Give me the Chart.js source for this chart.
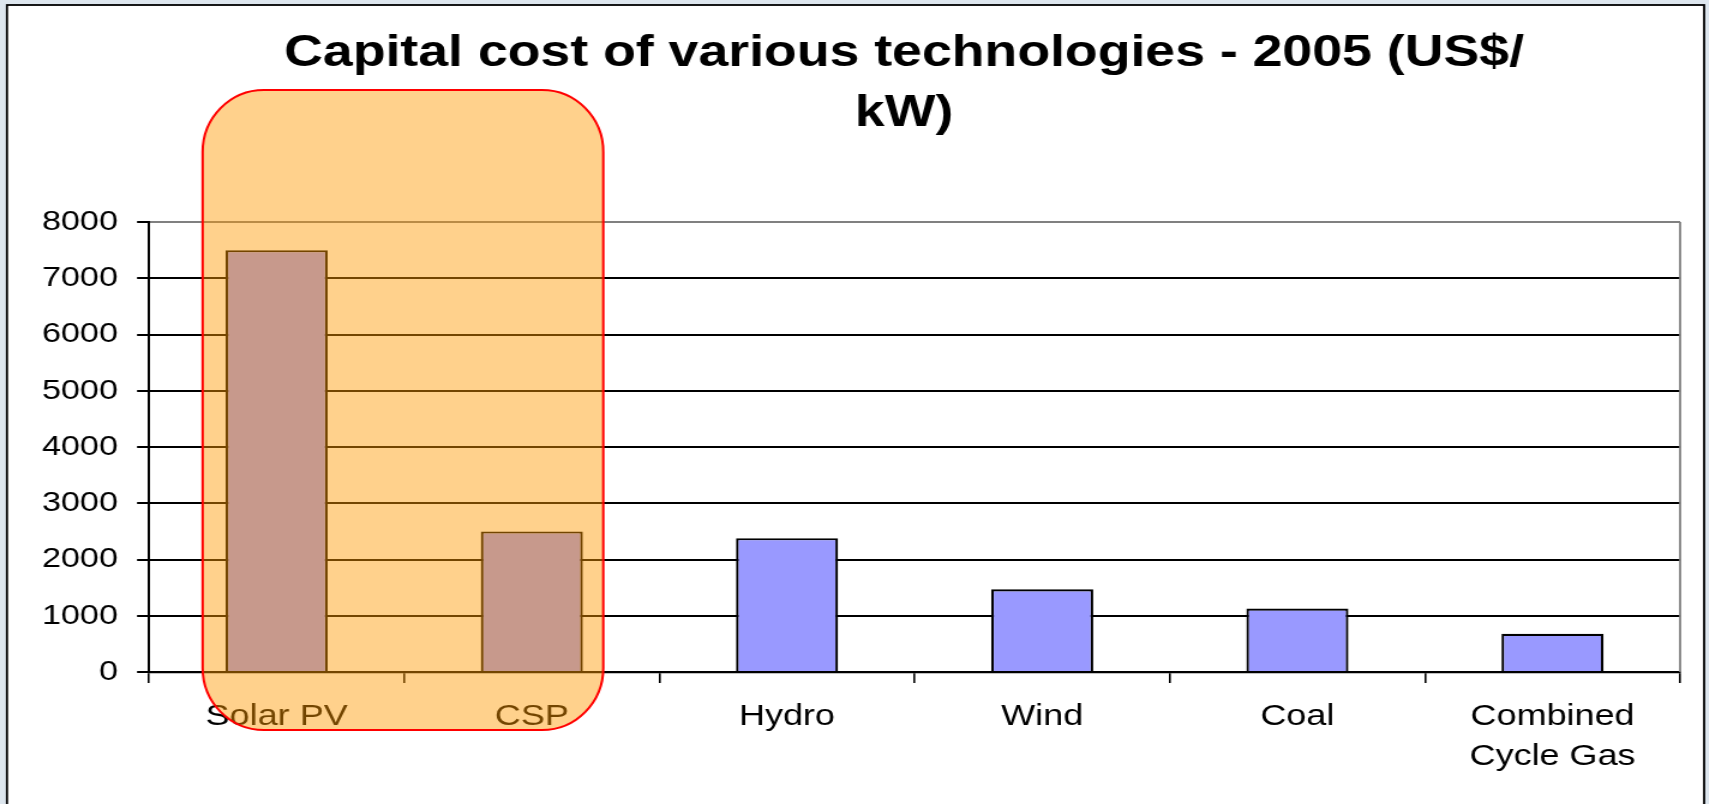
<!DOCTYPE html>
<html>
<head>
<meta charset="utf-8">
<title>Capital cost of various technologies - 2005</title>
<script src="https://cdn.jsdelivr.net/npm/chart.js@4.4.1/dist/chart.umd.min.js"></script>
<style>
  html, body { margin: 0; padding: 0; overflow: hidden; background: #dde6ee; }
  /* the slide is shown stretched ~1.2x sideways, so draw narrow and scale it out */
  #wrap { width: 1424px; height: 804px; transform: scaleX(1.2001); transform-origin: 0 0; }
</style>
</head>
<body>
<div id="wrap"><canvas id="chart"></canvas></div>
<script>
const categories = ['Solar PV', 'CSP', 'Hydro', 'Wind', 'Coal', ['Combined', 'Cycle Gas']];
const costUsdPerKw = [7500, 2500, 2380, 1470, 1130, 680];
const yTicks = [0, 1000, 2000, 3000, 4000, 5000, 6000, 7000, 8000];
const titleLines = ['Capital cost of various technologies - 2005 (US$/', 'kW)'];
const highlighted = [0, 1]; // solar techs, boxed in orange

const C = {
  ink: '#000000', plotEdge: '#808080', bar: '#9999FF',
  boxFill: 'rgba(255,153,0,0.45)', boxLine: '#FF0000', paper: '#FFFFFF',
};
const FONT = "'Liberation Sans', Arial, sans-serif";
const TITLE_CENTER = 753.3; // title sits a bit left of the plot centre

// white chart card with black frame + grey right edge of plot area
const framePlugin = {
  id: 'frame',
  afterLayout(chart) {
    // re-centre the title block (y-axis labels need the left room)
    const tb = chart.titleBlock;
    if (tb) { const half = tb.right - TITLE_CENTER; tb.left = TITLE_CENTER - half; }
  },
  beforeDraw(chart) {
    const { ctx } = chart;
    ctx.save();
    ctx.fillStyle = C.paper;
    ctx.fillRect(5.8, 5, 1414.2, 820);
    ctx.lineWidth = 1.8; ctx.strokeStyle = C.ink;
    ctx.strokeRect(5.8, 5, 1414.2, 820);
    ctx.restore();
  },
  beforeDatasetsDraw(chart) {
    const { ctx, chartArea: a } = chart;
    ctx.save();
    ctx.strokeStyle = C.plotEdge; ctx.lineWidth = 1.8;
    ctx.beginPath(); ctx.moveTo(a.right, a.top); ctx.lineTo(a.right, a.bottom); ctx.stroke();
    ctx.restore();
  },
};

function roundRectXY(ctx, l, t, r, b, rx, ry) {
  ctx.beginPath();
  ctx.moveTo(l + rx, t);
  ctx.lineTo(r - rx, t);
  ctx.ellipse(r - rx, t + ry, rx, ry, 0, -Math.PI / 2, 0);
  ctx.lineTo(r, b - ry);
  ctx.ellipse(r - rx, b - ry, rx, ry, 0, 0, Math.PI / 2);
  ctx.lineTo(l + rx, b);
  ctx.ellipse(l + rx, b - ry, rx, ry, 0, Math.PI / 2, Math.PI);
  ctx.lineTo(l, t + ry);
  ctx.ellipse(l + rx, t + ry, rx, ry, 0, Math.PI, Math.PI * 1.5);
  ctx.closePath();
}

// translucent orange rounded box laid over the highlighted categories (on top of labels too)
const highlightPlugin = {
  id: 'highlight',
  afterDraw(chart) {
    const { ctx, chartArea: a, scales: { x } } = chart;
    const first = x.getPixelForValue(highlighted[0]);
    const last = x.getPixelForValue(highlighted[highlighted.length - 1]);
    const w = x.getPixelForValue(1) - x.getPixelForValue(0);
    const l = first - 0.29 * w, r = last + 0.28 * w;
    const t = a.top - 132, b = a.bottom + 58;
    ctx.save();
    roundRectXY(ctx, l, t, r, b, 0.24 * w, 62);
    ctx.fillStyle = C.boxFill; ctx.fill();
    ctx.lineWidth = 2; ctx.strokeStyle = C.boxLine; ctx.stroke();
    ctx.restore();
  },
};

new Chart(document.getElementById('chart'), {
  type: 'bar',
  data: {
    labels: categories,
    datasets: [{
      data: costUsdPerKw,
      backgroundColor: C.bar, borderColor: C.ink, borderWidth: 2.2,
      barPercentage: 0.4, categoryPercentage: 1,
    }],
  },
  options: {
    responsive: true, maintainAspectRatio: false, animation: false,
    events: [],
    layout: { padding: { left: 20, right: 24, top: 0, bottom: 0 } },
    scales: {
      x: {
        grid: { drawOnChartArea: false, tickColor: C.ink, tickLength: 11, lineWidth: 1.6, offset: true },
        border: { color: C.ink, width: 2.2 },
        ticks: { color: C.ink, padding: 13.6, maxRotation: 0, autoSkip: false,
          font: { family: FONT, size: 30, lineHeight: 1.33 } },
        afterFit: s => { s.height = 132; },
      },
      y: {
        min: yTicks[0], max: yTicks[yTicks.length - 1],
        grid: {
          color: c => (c.tick && c.tick.value === yTicks[yTicks.length - 1]) ? C.plotEdge : C.ink,
          tickColor: C.ink, tickLength: 10, lineWidth: 2,
        },
        border: { color: C.ink, width: 2 },
        ticks: { stepSize: yTicks[1] - yTicks[0], color: C.ink, padding: 15.9,
          font: { family: FONT, size: 28.5 }, callback: v => String(v) },
        afterFit: s => { s.width = 104.2; },
      },
    },
    plugins: {
      legend: { display: false },
      tooltip: { enabled: false },
      title: {
        display: true, text: titleLines, color: C.ink, fullSize: true,
        font: { family: FONT, size: 44.7, weight: 'bold', lineHeight: 1.345 },
        padding: { top: 23.6, bottom: 78.2 },
      },
    },
  },
  plugins: [framePlugin, highlightPlugin],
});
</script>
</body>
</html>
